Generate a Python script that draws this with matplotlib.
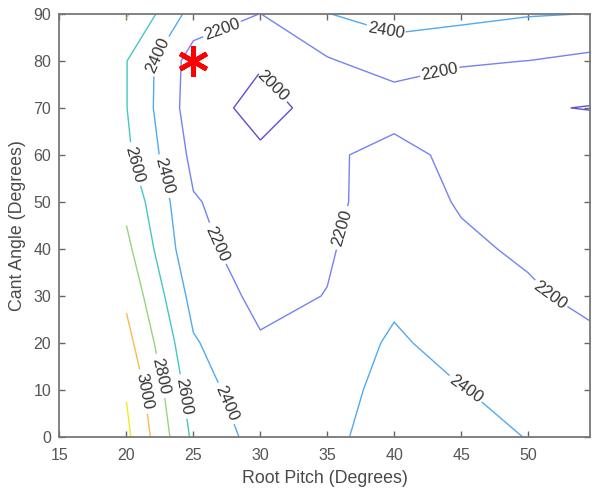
import matplotlib
matplotlib.use('Agg')
import matplotlib.pyplot as plt

plt.rcParams['font.family'] = ['Liberation Sans', 'DejaVu Sans']

# grid of the sweep
root_pitch = [20, 25, 30, 35, 40, 45, 50, 55]
cant_angle = [0, 10, 20, 30, 40, 50, 60, 70, 80, 90]

# one row per cant angle, one column per root pitch
weight = [
    [3245, 2560, 2325, 2340, 2520, 2480, 2393, 2320],
    [3185, 2493, 2272, 2283, 2500, 2410, 2310, 2290],
    [3070, 2420, 2219, 2240, 2440, 2297, 2290, 2265],
    [2960, 2330, 2150, 2205, 2350, 2300, 2250, 2103],
    [2850, 2240, 2135, 2180, 2323, 2260, 2149, 2080],
    [2750, 2215, 2100, 2120, 2370, 2170, 2120, 2100],
    [2640, 2150, 2029, 2150, 2300, 2115, 2100, 2150],
    [2605, 2095, 1937, 2068, 2078, 2100, 2018, 1990],
    [2605, 2110, 2019, 2181, 2300, 2215, 2199, 2151],
    [2820, 2320, 2198, 2396, 2470, 2458, 2413, 2396],
]

levels = [2000, 2200, 2400, 2600, 2800, 3000, 3200]
line_colors = ['#5d50cc', '#7482f4', '#52aaf0', '#45c8c2', '#98d47e', '#f8bb52', '#f2ec1c']

# chosen design point
best_pitch = [25]
best_cant = [80]

# where the contour labels sit
label_spots = [(22.3, 81.3), (27.2, 86.2), (30.9, 74.6), (39.4, 86.5), (43.4, 77.8),
               (20.5, 57.9), (22.6, 55.3), (26.6, 40.9), (36.1, 44.5), (51.5, 29.6),
               (22.3, 12.8), (21.1, 9.6), (24.1, 8.5), (27.5, 7.2), (45.4, 10.6)]

fig = plt.figure(figsize=(5.92, 4.96), dpi=100)
ax = fig.add_axes([0.1005, 0.119, 0.8966, 0.853])

cs = ax.contour(root_pitch, cant_angle, weight, levels=levels,
                colors=line_colors, linewidths=1.0)
ax.clabel(cs, manual=label_spots, inline=True, inline_spacing=4,
          fontsize=12, fmt='%d', colors='#333333')

ax.plot(best_pitch, best_cant, linestyle='none', marker=(6, 2, 0),
        color='red', markersize=22, markeredgewidth=3.5)

ax.set_xlim(15, 54.65)
ax.set_ylim(0, 90)
ax.set_xticks([15, 20, 25, 30, 35, 40, 45, 50])
ax.set_yticks(range(0, 91, 10))
ax.tick_params(direction='in', top=True, right=True, length=4, width=1,
               color='#666666', labelcolor='#555555', labelsize=11.5)
ax.tick_params(axis='x', pad=8)
ax.tick_params(axis='y', pad=6)
for sp in ax.spines.values():
    sp.set_color('#777777')
    sp.set_linewidth(1.3)

ax.set_xlabel('Root Pitch (Degrees)', fontsize=12.8, color='#4a4a4a', labelpad=5)
ax.set_ylabel('Cant Angle (Degrees)', fontsize=12.8, color='#4a4a4a', labelpad=5)

fig.savefig('out.png', dpi=100)
